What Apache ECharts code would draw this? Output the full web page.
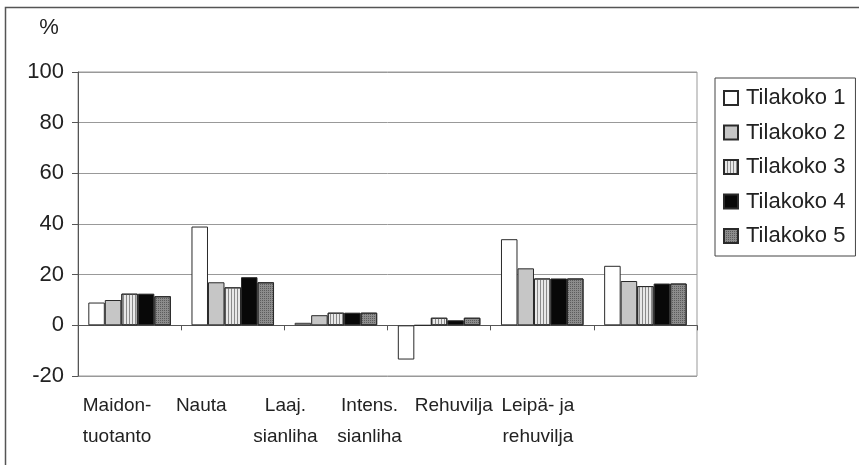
<!DOCTYPE html>
<html>
<head>
<meta charset="utf-8">
<script src="https://cdn.jsdelivr.net/npm/echarts@6/dist/echarts.min.js"></script>
<style>
html,body{margin:0;padding:0;background:#fff;}
#c{width:859px;height:465px;}
</style>
</head>
<body>
<div id="c"></div>
<script>
var categories = ['Maidon-\ntuotanto', 'Nauta', 'Laaj.\nsianliha', 'Intens.\nsianliha', 'Rehuvilja', 'Leipä- ja\nrehuvilja'];
var seriesNames = ['Tilakoko 1', 'Tilakoko 2', 'Tilakoko 3', 'Tilakoko 4', 'Tilakoko 5'];
var tilakoko1 = [9, 39, 1, -13.5, 34, 23.5];
var tilakoko2 = [10, 17, 4, 0, 22.5, 17.5];
var tilakoko3 = [12.5, 15, 5, 3, 18.5, 15.5];
var tilakoko4 = [12.5, 19, 5, 2, 18.5, 16.5];
var tilakoko5 = [11.5, 17, 5, 3, 18.5, 16.5];
var yTicks = {min: -20, max: 100, interval: 20};

var values = [tilakoko1, tilakoko2, tilakoko3, tilakoko4, tilakoko5];
var styles = [
  {color: '#ffffff'},
  {color: '#c6c6c6'},
  {color: '#e8e8e8', decal: {symbol: 'rect', symbolSize: 1, dashArrayX: [1, 2], dashArrayY: [1, 0], color: '#8a8a8a', rotation: 0}},
  {color: '#080808'},
  {color: '#8c8c8c', decal: {symbol: 'rect', symbolSize: 1, dashArrayX: [1, 1], dashArrayY: [1, 1], color: '#5c5c5c', rotation: 0}}
];
var FONT = '"Liberation Sans", Arial, Helvetica, sans-serif';

var chart = echarts.init(document.getElementById('c'), null, {renderer: 'canvas'});
var series = values.map(function (v, i) {
  var st = Object.assign({borderColor: '#2a2a2a', borderWidth: 1}, styles[i]);
  return {
    name: seriesNames[i], type: 'bar', data: v,
    xAxisIndex: 0, yAxisIndex: 0,
    barGap: '0%', barCategoryGap: '20%',
    itemStyle: st, emphasis: {disabled: true}, animation: false
  };
});

chart.setOption({
  animation: false,
  backgroundColor: '#ffffff',
  textStyle: {fontFamily: FONT},
  graphic: [{
    type: 'rect', silent: true,
    shape: {x: 5.5, y: 7.5, width: 900, height: 600},
    style: {fill: 'none', stroke: '#555', lineWidth: 1.5}
  }],
  grid: [
    {left: 78, right: 162, top: 72, bottom: 89, show: true, borderColor: '#999', borderWidth: 1, backgroundColor: 'transparent'},
    {left: 75, width: 505, top: 72, bottom: 89, show: false}
  ],
  legend: {
    data: seriesNames,
    orient: 'vertical',
    left: 715, top: 78,
    padding: [9, 10, 9, 8],
    itemGap: 12.5,
    itemWidth: 14, itemHeight: 14,
    icon: 'rect',
    borderColor: '#444', borderWidth: 1,
    textStyle: {fontSize: 22, color: '#222', fontFamily: FONT, lineHeight: 22, padding: [0, 0, 0, 3]},
    selectedMode: false
  },
  xAxis: [
    {
      type: 'category', gridIndex: 0, data: categories,
      axisLine: {onZero: true, lineStyle: {color: '#555', width: 1}},
      axisTick: {show: true, length: 5, lineStyle: {color: '#555'}},
      axisLabel: {show: false},
      splitLine: {show: false}
    },
    {
      type: 'category', gridIndex: 1, data: categories, position: 'bottom',
      axisLine: {show: false}, axisTick: {show: false},
      axisLabel: {show: true, interval: 0, fontSize: 19, lineHeight: 31, margin: 14, color: '#222', fontFamily: FONT, align: 'center'},
      splitLine: {show: false}
    }
  ],
  yAxis: [
    {
      type: 'value', gridIndex: 0,
      min: yTicks.min, max: yTicks.max, interval: yTicks.interval,
      name: '%', nameLocation: 'end', nameGap: 33,
      nameTextStyle: {fontSize: 22, color: '#222', fontFamily: FONT, padding: [0, 58, 0, 0]},
      axisLine: {show: true, lineStyle: {color: '#555', width: 1}},
      axisTick: {show: true, length: 6, lineStyle: {color: '#555'}},
      axisLabel: {fontSize: 22, color: '#222', margin: 14, fontFamily: FONT},
      splitLine: {show: true, lineStyle: {color: '#999', width: 1}}
    },
    {
      type: 'value', gridIndex: 1, show: false,
      min: yTicks.min, max: yTicks.max, interval: yTicks.interval
    }
  ],
  series: series
});
</script>
</body>
</html>
